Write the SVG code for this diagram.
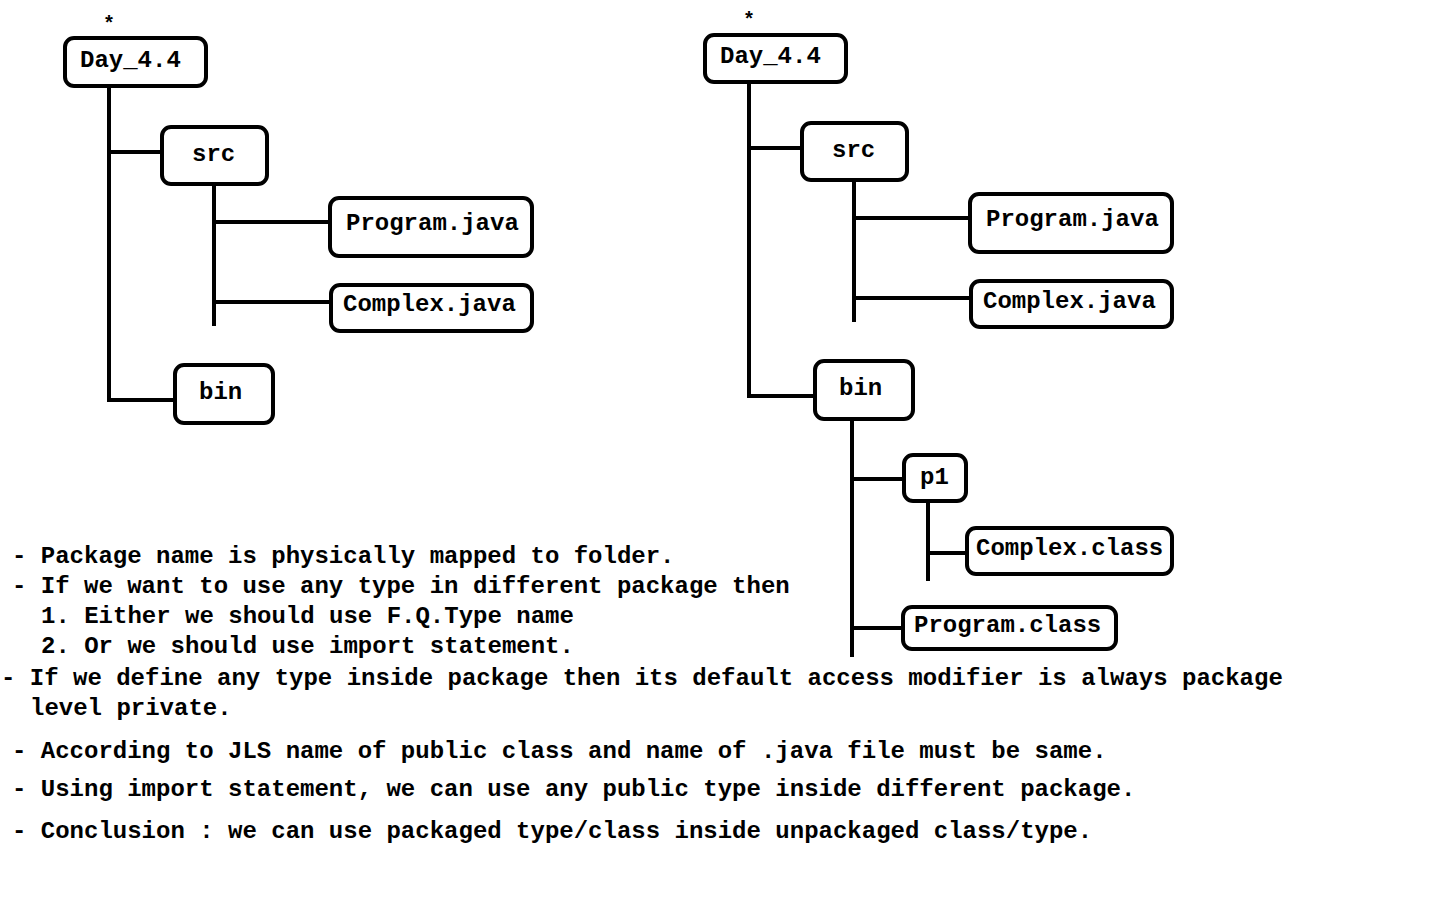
<svg xmlns="http://www.w3.org/2000/svg" width="1440" height="900" viewBox="0 0 1440 900">
<style>
.bg{fill:#fff}
.box{fill:#fff;stroke:#000;stroke-width:4}
.ln{stroke:#000;stroke-width:4;fill:none}
text{font-family:"Liberation Mono","Courier New",monospace;font-weight:bold;font-size:24px;fill:#000}
.star{font-size:20px}
</style>
<rect class="bg" x="0" y="0" width="1440" height="900"/>
<g id="connectors">
<path class="ln" d="M109,87 V400 H175"/>
<path class="ln" d="M109,152 H162"/>
<path class="ln" d="M214,185 V326"/>
<path class="ln" d="M214,222 H330"/>
<path class="ln" d="M214,302 H331"/>
<path class="ln" d="M749,83 V396 H815"/>
<path class="ln" d="M749,148 H802"/>
<path class="ln" d="M854,181 V322"/>
<path class="ln" d="M854,218 H970"/>
<path class="ln" d="M854,298 H971"/>
<path class="ln" d="M852,420 V657"/>
<path class="ln" d="M852,479 H904"/>
<path class="ln" d="M852,628 H903"/>
<path class="ln" d="M928,501 V581"/>
<path class="ln" d="M928,553 H967"/>
</g>
<g id="star-left"><text class="star" x="103" y="30">*</text></g>
<g id="star-right"><text class="star" x="743" y="26">*</text></g>
<g id="left-day"><rect class="box" x="65" y="38" width="141" height="48" rx="9"/><text x="80" y="67">Day_4.4</text></g>
<g id="left-src"><rect class="box" x="162" y="127" width="105" height="57" rx="9"/><text x="192" y="161">src</text></g>
<g id="left-program-java"><rect class="box" x="330" y="198" width="202" height="58" rx="9"/><text x="346" y="230">Program.java</text></g>
<g id="left-complex-java"><rect class="box" x="331" y="285" width="201" height="46" rx="9"/><text x="343" y="311">Complex.java</text></g>
<g id="left-bin"><rect class="box" x="175" y="365" width="98" height="58" rx="9"/><text x="199" y="399">bin</text></g>
<g id="right-day"><rect class="box" x="705" y="35" width="141" height="47" rx="9"/><text x="720" y="63">Day_4.4</text></g>
<g id="right-src"><rect class="box" x="802" y="123" width="105" height="57" rx="9"/><text x="832" y="157">src</text></g>
<g id="right-program-java"><rect class="box" x="970" y="194" width="202" height="58" rx="9"/><text x="986" y="226">Program.java</text></g>
<g id="right-complex-java"><rect class="box" x="971" y="281" width="201" height="46" rx="9"/><text x="983" y="308">Complex.java</text></g>
<g id="right-bin"><rect class="box" x="815" y="361" width="98" height="58" rx="9"/><text x="839" y="395">bin</text></g>
<g id="p1"><rect class="box" x="904" y="455" width="62" height="46" rx="9"/><text x="920" y="484">p1</text></g>
<g id="complex-class"><rect class="box" x="967" y="528" width="205" height="46" rx="9"/><text x="976" y="555">Complex.class</text></g>
<g id="program-class"><rect class="box" x="903" y="607" width="213" height="42" rx="9"/><text x="914" y="632">Program.class</text></g>
<g id="notes">
<text x="12" y="563">- Package name is physically mapped to folder.</text>
<text x="12" y="593">- If we want to use any type in different package then</text>
<text x="41" y="623">1. Either we should use F.Q.Type name</text>
<text x="41" y="653">2. Or we should use import statement.</text>
<text x="1" y="685">- If we define any type inside package then its default access modifier is always package</text>
<text x="30" y="715">level private.</text>
<text x="12" y="758">- According to JLS name of public class and name of .java file must be same.</text>
<text x="12" y="796">- Using import statement, we can use any public type inside different package.</text>
<text x="12" y="838">- Conclusion : we can use packaged type/class inside unpackaged class/type.</text>
</g>
</svg>
